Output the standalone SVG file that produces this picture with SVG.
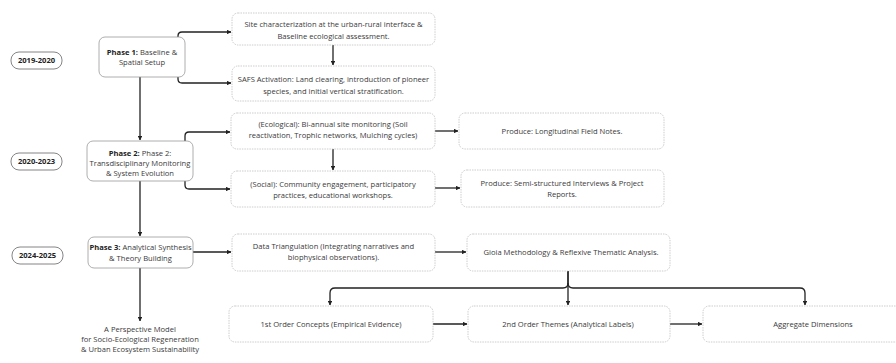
<svg xmlns="http://www.w3.org/2000/svg" width="896" height="363" viewBox="0 0 896 363">
<style>
text{font-family:"Open Sans","Liberation Sans",sans-serif;font-size:7.6px;fill:#3a3a3a;text-anchor:middle}
.b{font-weight:bold;fill:#222}
.year rect{fill:#fff;stroke:#666;stroke-width:0.8}
.phase rect{fill:#fff;stroke:#999;stroke-width:0.8}
.node rect{fill:#fff;stroke:#b8b8b8;stroke-width:0.7;stroke-dasharray:1.5 1}
#connectors path{fill:none;stroke:#222;stroke-width:1.3;marker-end:url(#ah)}
</style>
<defs>
<marker id="ah" viewBox="0 0 6 6" refX="5.5" refY="3" markerWidth="3.6" markerHeight="3.6" orient="auto" markerUnits="strokeWidth">
<path d="M0,0 L6,3 L0,6 Z" fill="#222"/>
</marker>
</defs>
<rect width="896" height="363" fill="#fff"/>
<g id="connectors">
<path d="M178,37 V36 Q178,32 182,32 H231"/>
<path d="M178,77 V79 Q178,83 182,83 H231"/>
<path d="M333,45 V65"/>
<path d="M140,77 V140"/>
<path d="M185,141 V136 Q185,132 189,132 H230"/>
<path d="M185,181 V185 Q185,189 189,189 H230"/>
<path d="M333,149 V170"/>
<path d="M435,131 H458"/>
<path d="M435,188 H460"/>
<path d="M140,181 V236"/>
<path d="M193,252 H231"/>
<path d="M435,252 H466"/>
<path d="M140,268 V321"/>
<path d="M568,271 V283 Q568,288 563,288 H335 Q330,288 330,293 V305"/>
<path d="M568,271 V305"/>
<path d="M568,283 Q568,288 573,288 H800 Q805,288 805,293 V305"/>
<path d="M433,324 H467"/>
<path d="M670,324 H702"/>
</g>
<g id="year1" class="year"><rect x="11" y="52" width="51" height="17" rx="8"/><text class="b" x="36.5" y="63.2">2019-2020</text></g>
<g id="year2" class="year"><rect x="11" y="153" width="51" height="17" rx="8"/><text class="b" x="36.5" y="164.2">2020-2023</text></g>
<g id="year3" class="year"><rect x="12" y="247" width="51" height="17" rx="8"/><text class="b" x="37.5" y="258.2">2024-2025</text></g>
<g id="phase1" class="phase"><rect x="99" y="37" width="86" height="40" rx="6"/><text x="142" y="54.5"><tspan class="b">Phase 1:</tspan> Baseline &amp;</text><text x="142" y="64.5">Spatial Setup</text></g>
<g id="phase2" class="phase"><rect x="87" y="141" width="106" height="40" rx="6"/><text x="140" y="155.5"><tspan class="b">Phase 2:</tspan> Phase 2:</text><text x="140" y="165.5">Transdisciplinary Monitoring</text><text x="140" y="175.5">&amp; System Evolution</text></g>
<g id="phase3" class="phase"><rect x="88" y="237" width="105" height="31" rx="6"/><text x="140.5" y="249.5"><tspan class="b">Phase 3:</tspan> Analytical Synthesis</text><text x="140.5" y="260.5">&amp; Theory Building</text></g>
<g id="site" class="node"><rect x="232" y="13" width="203" height="32" rx="6"/><text x="333.5" y="27">Site characterization at the urban-rural interface &amp;</text><text x="333.5" y="39">Baseline ecological assessment.</text></g>
<g id="safs" class="node"><rect x="232" y="66" width="203" height="35" rx="6"/><text x="333.5" y="82">SAFS Activation: Land clearing, introduction of pioneer</text><text x="333.5" y="93.5">species, and initial vertical stratification.</text></g>
<g id="eco" class="node"><rect x="231" y="113" width="204" height="36" rx="6"/><text x="333" y="126.5">(Ecological): Bi-annual site monitoring (Soil</text><text x="333" y="137.5">reactivation, Trophic networks, Mulching cycles)</text></g>
<g id="social" class="node"><rect x="231" y="171" width="204" height="36" rx="6"/><text x="333" y="186.5">(Social): Community engagement, participatory</text><text x="333" y="197.5">practices, educational workshops.</text></g>
<g id="prod1" class="node"><rect x="459" y="113" width="205" height="36" rx="6"/><text x="562" y="133.5">Produce: Longitudinal Field Notes.</text></g>
<g id="prod2" class="node"><rect x="461" y="170" width="203" height="37" rx="6"/><text x="562" y="185.5">Produce: Semi-structured Interviews &amp; Project</text><text x="562" y="196.5">Reports.</text></g>
<g id="data" class="node"><rect x="232" y="234" width="203" height="37" rx="6"/><text x="333.5" y="248.5">Data Triangulation (Integrating narratives and</text><text x="333.5" y="259.5">biophysical observations).</text></g>
<g id="gioia" class="node"><rect x="467" y="234" width="203" height="37" rx="6"/><text x="571" y="254.5">Gioia Methodology &amp; Reflexive Thematic Analysis.</text></g>
<g id="first" class="node"><rect x="229" y="306" width="204" height="36" rx="6"/><text x="331" y="326.5">1st Order Concepts (Empirical Evidence)</text></g>
<g id="second" class="node"><rect x="468" y="306" width="202" height="36" rx="6"/><text x="568" y="326.5">2nd Order Themes (Analytical Labels)</text></g>
<g id="aggregate" class="node"><rect x="703" y="306" width="220" height="36" rx="6"/><text x="813" y="326.5">Aggregate Dimensions</text></g>
<g id="outcome"><text x="140" y="331.5">A Perspective Model</text><text x="140" y="341.5">for Socio-Ecological Regeneration</text><text x="140" y="351.5">&amp; Urban Ecosystem Sustainability</text></g>
</svg>
